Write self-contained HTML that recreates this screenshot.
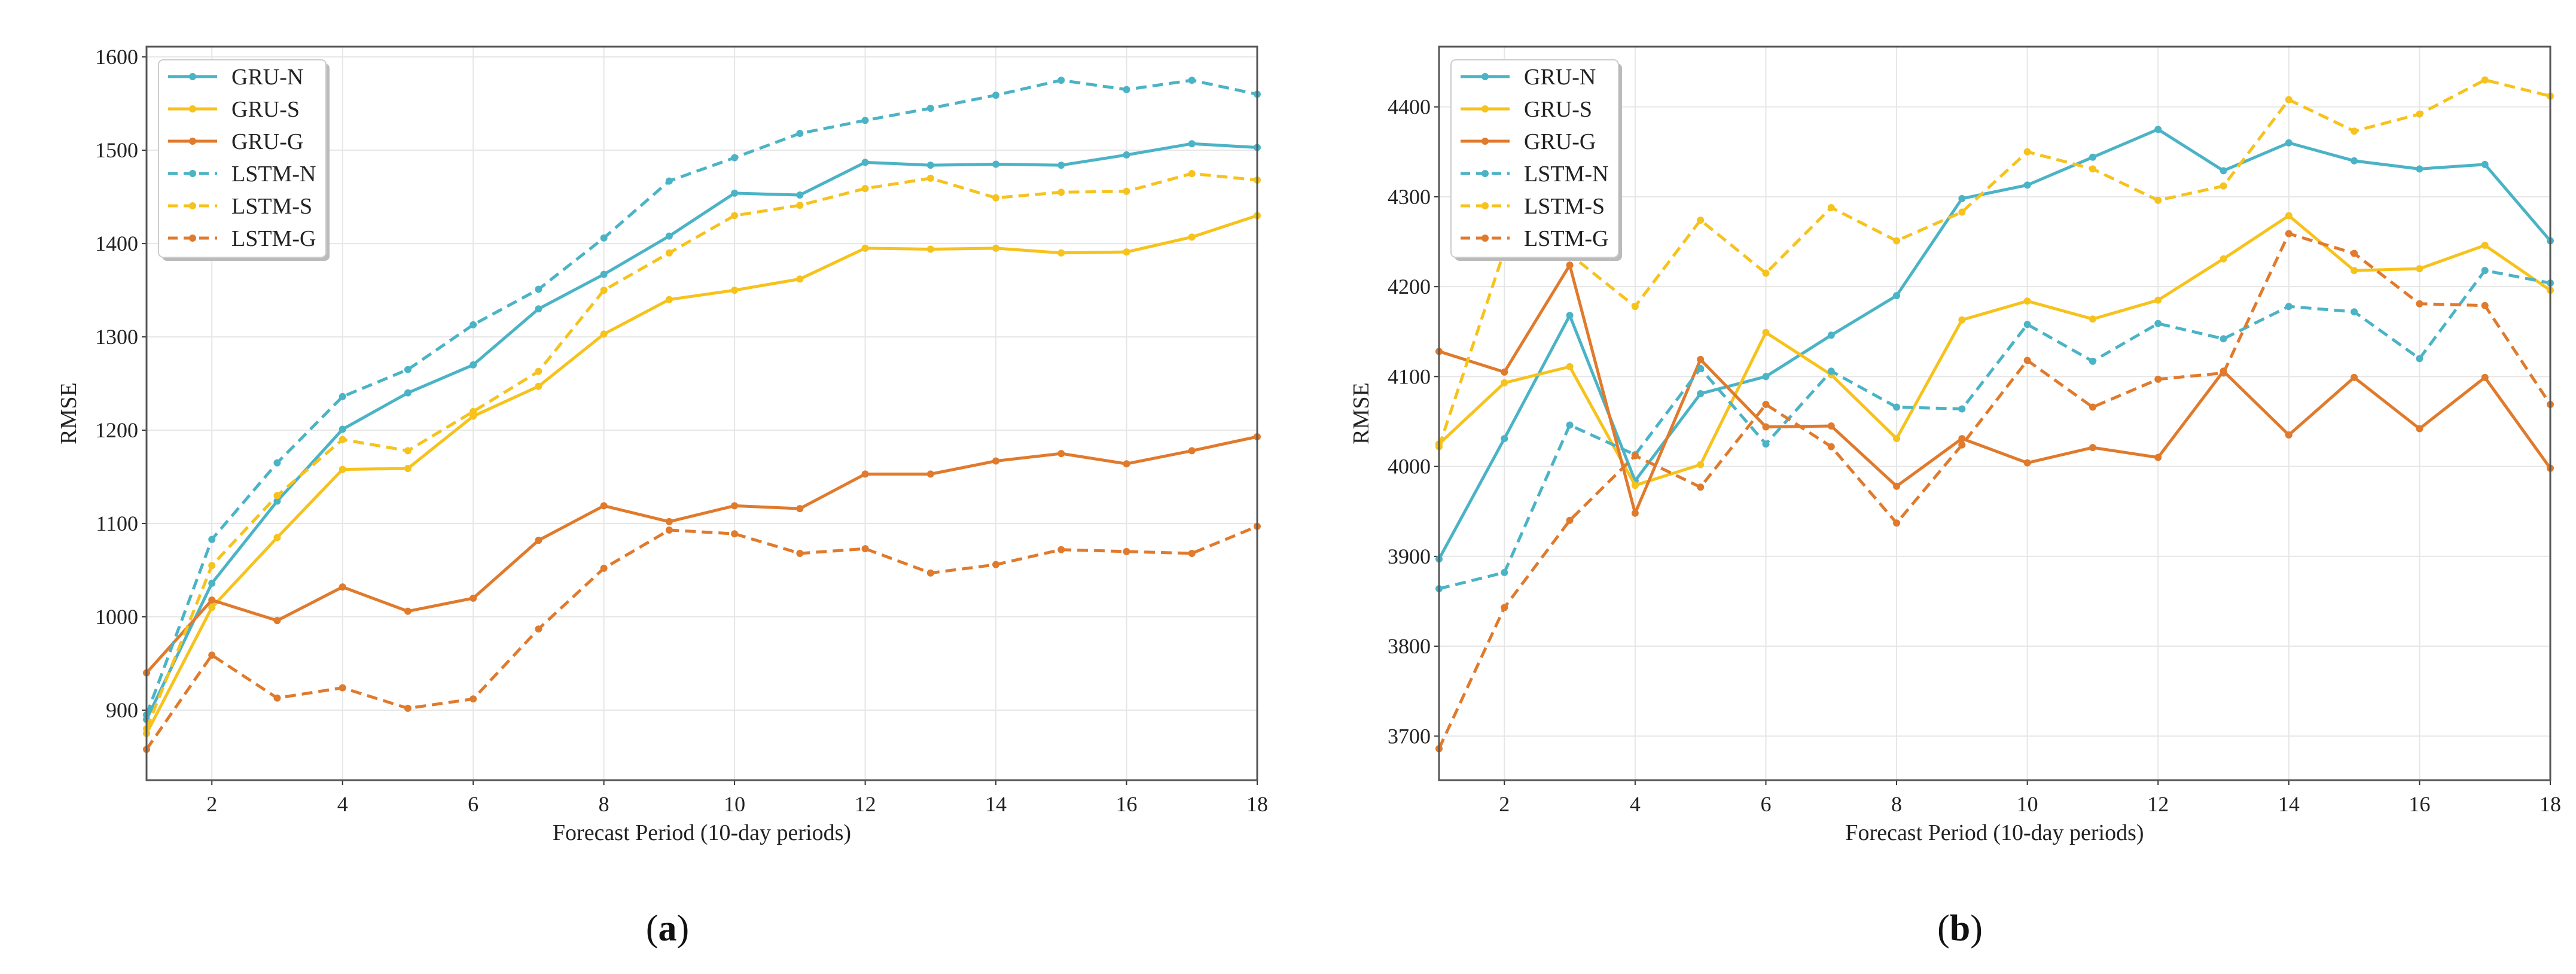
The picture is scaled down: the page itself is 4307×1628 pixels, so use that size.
<!DOCTYPE html>
<html><head><meta charset="utf-8"><style>
html,body{margin:0;padding:0;background:#fff;}
svg{display:block;font-family:"Liberation Serif",serif;}
</style></head><body>
<svg id="chart" width="4307" height="1628" viewBox="0 0 4307 1628" xmlns="http://www.w3.org/2000/svg"></svg>
<script>
const periods = [1,2,3,4,5,6,7,8,9,10,11,12,13,14,15,16,17,18];
const seriesNames = ["GRU-N","GRU-S","GRU-G","LSTM-N","LSTM-S","LSTM-G"];
const xTicks = [2,4,6,8,10,12,14,16,18];
const yTicksA = [900,1000,1100,1200,1300,1400,1500,1600];
const yTicksB = [3700,3800,3900,4000,4100,4200,4300,4400];
const aGRUN = [890,1036,1124,1201,1240,1270,1330,1367,1408,1454,1452,1487,1484,1485,1484,1495,1507,1503];
const aGRUS = [875,1010,1085,1158,1159,1215,1247,1303,1340,1350,1362,1395,1394,1395,1390,1391,1407,1430];
const aGRUG = [940,1018,996,1032,1006,1020,1082,1119,1102,1119,1116,1153,1153,1167,1175,1164,1178,1193];
const aLSTMN = [895,1083,1165,1236,1265,1313,1351,1406,1467,1492,1518,1532,1545,1559,1575,1565,1575,1560];
const aLSTMS = [880,1055,1130,1190,1178,1220,1263,1350,1390,1430,1441,1459,1470,1449,1455,1456,1475,1468];
const aLSTMG = [858,959,913,924,902,912,987,1052,1093,1089,1068,1073,1047,1056,1072,1070,1068,1097];
const bGRUN = [3897,4031,4168,3984,4081,4100,4146,4190,4298,4313,4344,4375,4329,4360,4340,4331,4336,4251];
const bGRUS = [4025,4093,4111,3979,4002,4149,4102,4031,4163,4184,4164,4185,4231,4279,4218,4220,4246,4196];
const bGRUG = [4128,4105,4224,3948,4119,4044,4045,3978,4031,4004,4021,4010,4106,4035,4099,4042,4099,3998];
const bLSTMN = [3864,3882,4046,4013,4109,4025,4106,4066,4064,4158,4117,4159,4142,4178,4172,4120,4218,4204];
const bLSTMS = [4022,4240,4236,4178,4274,4215,4288,4251,4283,4350,4331,4296,4312,4408,4373,4392,4430,4412];
const bLSTMG = [3686,3843,3940,4012,3977,4069,4022,3937,4024,4118,4066,4097,4104,4259,4237,4181,4179,4069];

const NS="http://www.w3.org/2000/svg";
const svg=document.getElementById('chart');
const colors=["#4bb3c6","#f6c21c","#e07a2c","#4bb3c6","#f6c21c","#e07a2c"];
function mk(tag,attrs,parent){const e=document.createElementNS(NS,tag);for(const k in attrs)e.setAttribute(k,attrs[k]);(parent||svg).appendChild(e);return e;}

function panel(id,L,R,T,B,ymin,ymax,yTicks,data,caption,capX){
  const g=mk('g',{});
  
  
  const xs=v=>L+(v-1)/(18-1)*(R-L);
  const ys=v=>B-(v-ymin)/(ymax-ymin)*(B-T);
  for(const t of xTicks){
    const l=mk('line',{x1:xs(t),x2:xs(t),y1:T,y2:B,stroke:"#e6e6e6","stroke-width":2},g);
    
    
    const tx=mk('text',{x:xs(t),y:B+52,"text-anchor":"middle","font-size":36,fill:"#222"},g);
    tx.textContent=t;
    
    
    mk('line',{x1:xs(t),x2:xs(t),y1:B,y2:B+8,stroke:"#333","stroke-width":2},g);
  }
  for(const t of yTicks){
    const l=mk('line',{x1:L,x2:R,y1:ys(t),y2:ys(t),stroke:"#e6e6e6","stroke-width":2},g);
    
    
    const tx=mk('text',{x:L-14,y:ys(t)+12,"text-anchor":"end","font-size":36,fill:"#222"},g);
    tx.textContent=t;
    
    
    mk('line',{x1:L-8,x2:L,y1:ys(t),y2:ys(t),stroke:"#333","stroke-width":2},g);
  }
  data.forEach((arr,i)=>{
    const pts=arr.map((v,j)=>xs(periods[j])+","+ys(v)).join(" ");
    const pl=mk('polyline',{points:pts,fill:"none",stroke:colors[i],"stroke-width":5,"stroke-dasharray":i>=3?"18,10":"none","stroke-linejoin":"round"},g);
    
    
    arr.forEach((v,j)=>{
      const c=mk('circle',{cx:xs(periods[j]),cy:ys(v),r:6,fill:colors[i]},g);
      
      
    });
  });
  const fr=mk('rect',{x:L,y:T,width:R-L,height:B-T,fill:"none",stroke:"#555","stroke-width":3},g);
  
  
  // legend
  const lx=L+20, ly=T+22;
  const lg=mk('g',{},g);
  
  
  mk('rect',{x:lx+6,y:ly+6,width:280,height:330,rx:8,fill:"#bbb"},lg);
  mk('rect',{x:lx,y:ly,width:280,height:330,rx:8,fill:"#fff",stroke:"#ccc","stroke-width":2},lg);
  seriesNames.forEach((n,i)=>{
    const yy=ly+28+i*54;
    mk('line',{x1:lx+16,x2:lx+98,y1:yy,y2:yy,stroke:colors[i],"stroke-width":5,"stroke-dasharray":i>=3?"16,10":"none"},lg);
    mk('circle',{cx:lx+57,cy:yy,r:6,fill:colors[i]},lg);
    const t=mk('text',{x:lx+122,y:yy+13,"font-size":38,fill:"#222"},lg);
    t.textContent=n;
    
    
  });
  const xl=mk('text',{x:(L+R)/2,y:B+100,"text-anchor":"middle","font-size":38,fill:"#222"},g);
  xl.textContent="Forecast Period (10-day periods)";
  
  
  const yl=mk('text',{x:0,y:0,"text-anchor":"middle","font-size":38,fill:"#222",transform:`translate(${L-118},${(T+B)/2}) rotate(-90)`},g);
  yl.textContent="RMSE";
  
  
  const cp=mk('text',{x:capX,y:1572,"text-anchor":"middle","font-size":62,fill:"#111"},g);
  cp.innerHTML='(<tspan font-weight="bold">'+caption+'</tspan>)';
  
  
}
panel('a',245,2102,78,1304,825,1611,yTicksA,[aGRUN,aGRUS,aGRUG,aLSTMN,aLSTMS,aLSTMG],'a',1116);
panel('b',2406,4264,78,1304,3651,4467,yTicksB,[bGRUN,bGRUS,bGRUG,bLSTMN,bLSTMS,bLSTMG],'b',3277);
</script>
</body></html>
